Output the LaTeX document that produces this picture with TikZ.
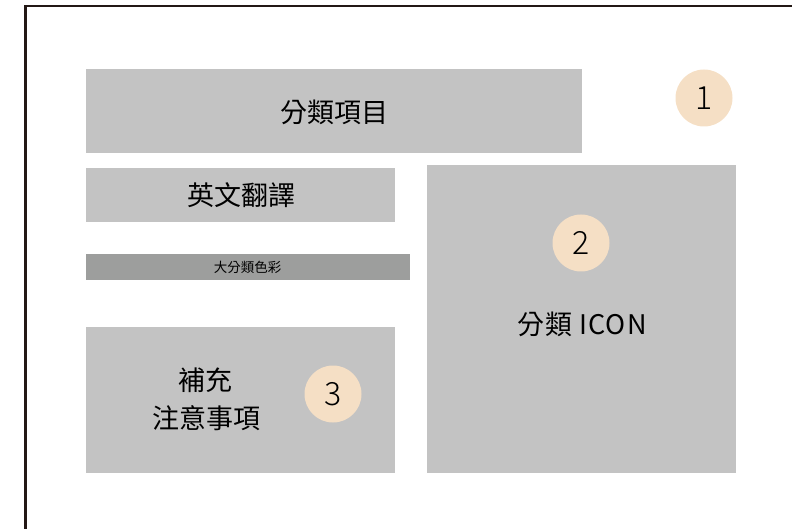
\documentclass[tikz,border=0pt]{standalone}
\usepackage{fontspec}
\setmainfont{Noto Sans CJK TC}
\newfontfamily\numfont{Noto Sans CJK TC Light}
\newfontfamily\spacedfont[LetterSpace=4]{Noto Sans CJK TC}
\definecolor{boxgray}{HTML}{C3C3C3}
\definecolor{bargray}{HTML}{9D9E9D}
\definecolor{badge}{HTML}{F5DFC5}
\definecolor{frame}{HTML}{231815}
\begin{document}
\begin{tikzpicture}[x=1pt,y=-1pt,
  graybox/.style={fill=boxgray,draw=none},
  lbl/.style={font=\fontsize{27}{30}\selectfont,text=black,inner sep=0pt},
  smalllbl/.style={font=\fontsize{13.5}{16}\selectfont,text=black,inner sep=0pt},
  numbadge/.style={circle,fill=badge,draw=none,minimum size=57pt,inner sep=0pt,font=\numfont\fontsize{32}{34}\selectfont,text=black}]
\useasboundingbox (0,0) rectangle (792,529);
\begin{scope}
\clip (0,0) rectangle (792,529);
\draw[frame,line width=2.2pt] (25.5,6) rectangle (820,560);
\end{scope}
\fill[graybox] (86,69) rectangle (582,153);
\fill[graybox] (86,168) rectangle (395,222);
\fill[bargray] (86,254) rectangle (410,280);
\fill[graybox] (86,327) rectangle (395,473);
\fill[graybox] (427,165) rectangle (736,473);
\node[lbl] (t1) at (334,112) {分類項目};
\node[lbl] (t2) at (241,195) {英文翻譯};
\node[smalllbl] (t3) at (247.5,267) {大分類色彩};
\node[lbl,font=\spacedfont\fontsize{27}{30}\selectfont] (t4) at (582,324) {分類 ICON};
\node[lbl] (t5) at (205,380) {補充};
\node[lbl] (t6) at (206,418.5) {注意事項};
\node[numbadge] (c1) at (704,98) {1};
\node[numbadge] (c2) at (581,243) {2};
\node[numbadge] (c3) at (333,394) {3};
\end{tikzpicture}
\end{document}
